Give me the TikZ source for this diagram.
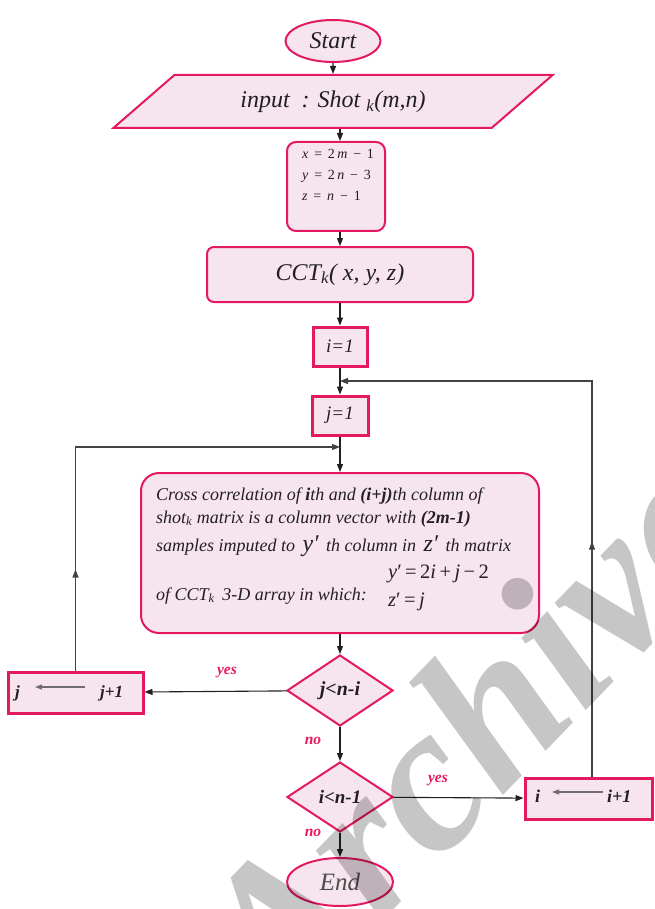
\documentclass[tikz,border=0pt]{standalone}
\usepackage{fontspec}
\setmainfont{Liberation Serif}
\usetikzlibrary{shapes.geometric,arrows.meta,decorations.markings}
\definecolor{rim}{HTML}{E4195E}
\definecolor{blush}{HTML}{F6E5EF}
\definecolor{ink}{HTML}{231F20}
\definecolor{tag}{HTML}{E4195E}
\definecolor{wm}{HTML}{C6C6C6}
\newcommand\fsz[1]{\fontsize{#1}{#1}\selectfont}

\begin{document}
\begin{tikzpicture}[x=1pt,y=-1pt,
  every node/.style={text=ink, inner sep=0pt},
  box/.style={draw=rim, fill=blush, line width=2pt},
  thickbox/.style={draw=rim, fill=blush, line width=3pt},
  tip/.style={-{Triangle[length=8pt,width=6pt]}},
  flow/.style={draw=ink, line width=1.1pt, tip},
  loopline/.style={draw=ink!85, line width=1.1pt, tip},
  midarrow/.style={postaction={decorate}, decoration={markings,
      mark=at position #1 with {\arrow{Triangle[length=8pt,width=6pt]}}}},
  assign/.style={draw=ink!65, line width=1.2pt, -{Triangle[length=7pt,width=5pt]}},
  tagtext/.style={text=tag, font=\fsz{15.5}\bfseries\itshape},
  body/.style={anchor=base west, font=\fsz{18}\itshape},
  eq/.style={anchor=base west, font=\fsz{20.5}},
  setup/.style={anchor=base west, font=\fsz{14}},
  incr/.style={anchor=base west, font=\fsz{17}\bfseries\itshape},
]
\useasboundingbox (0,0) rectangle (654,909);
\clip (0,0) rectangle (654,909);

% terminals, input and set-up boxes
\node[box, ellipse, minimum width=95pt, minimum height=42pt, font=\fsz{24}\itshape] (start) at (333,41) {Start};
\node[box, trapezium, trapezium left angle=31.4, trapezium right angle=148.6,
      trapezium stretches=true, minimum width=440pt, minimum height=53pt,
      font=\fsz{24}\itshape] (inp) at (333,101.5) {input \ : Shot \textsubscript{k}(m,n)};
\node[box, rounded corners=9pt, minimum width=98pt, minimum height=89pt] (xyz) at (336,186.5) {};
\node[setup] (xeq) at (302,159) {\textit{x}\, = \,2\,\textit{m}\, − \,1};
\node[setup] (yeq) at (302,180) {\textit{y}\, = \,2\,\textit{n}\, − \,3};
\node[setup] (zeq) at (302,201) {\textit{z}\, = \,\textit{n}\, − \,1};
\node[box, rounded corners=7pt, minimum width=266pt, minimum height=55pt, font=\fsz{24}\itshape] (cct) at (340,274.5) {CCT\textsubscript{k}( x, y, z)};
\node[thickbox, minimum width=54pt, minimum height=39pt, font=\fsz{19}\itshape] (i1) at (340,346.5) {i=1};
\node[thickbox, minimum width=56pt, minimum height=39pt, font=\fsz{19}\itshape] (j1) at (340,415.5) {j=1};

% loop body
\node[box, rounded corners=18pt, minimum width=398pt, minimum height=160pt] (big) at (340,553) {};
\node[body] (l1) at (156,500) {Cross correlation of \textbf{i}th and \textbf{(i+j)}th column of};
\node[body] (l2) at (156,523) {shot\textsubscript{k} matrix is a column vector with \textbf{(2m-1)}};
\node[body] (l3) at (156,551) {samples imputed to \,{\fsz{24}y′}\, th column in \,{\fsz{24}z′}\, th matrix};
\node[eq] (l4) at (388,578) {\textit{y}′\,=\,2\textit{i}\,+\,\textit{j}\,−\,2};
\node[body] (l5) at (156,600) {of CCT\textsubscript{k} \,3-D array in which:};
\node[eq] (l6) at (388,606) {\textit{z}′\,=\,\textit{j}};

% decisions and end
\node[box, diamond, minimum width=106pt, minimum height=71pt, font=\fsz{20}\bfseries\itshape] (d1) at (340,690.5) {j<n-i};
\node[box, diamond, minimum width=106pt, minimum height=70pt, font=\fsz{19}\bfseries\itshape] (d2) at (340,797) {i<n-1};
\node[box, ellipse, minimum width=106pt, minimum height=48pt, font=\fsz{25}\itshape, text=ink!80] (end) at (340,882) {End};

% counter updates
\node[thickbox, minimum width=135pt, minimum height=41pt] (jinc) at (75.5,692.5) {};
\node[incr] (jold) at (15,697) {j};
\node[incr] (jnew) at (100,697) {j+1};
\coordinate (ja) at (85,687);
\coordinate (jb) at (35,687);
\draw[assign] (ja) -- (jb);

\node[thickbox, minimum width=127pt, minimum height=41pt] (iinc) at (588.5,798.5) {};
\node[incr, font=\fsz{18}\bfseries\itshape] (iold) at (535,802) {i};
\node[incr, font=\fsz{18}\bfseries\itshape] (inew) at (607,802) {i+1};
\coordinate (ia) at (603,792);
\coordinate (ib) at (552,792);
\draw[assign] (ia) -- (ib);

% main flow
\draw[flow] (start) -- (inp);
\draw[flow] (inp.south -| cct.north) -- (xyz.north -| cct.north);
\draw[flow] (xyz.south -| cct.north) -- (cct.north);
\draw[flow] (cct) -- (i1);
\draw[flow] (i1) -- (j1);
\draw[flow] (j1) -- (big);
\draw[flow] (big) -- (d1);
\draw[flow] (d1) -- (jinc);
\draw[flow] (d1) -- (d2);
\draw[flow] (d2) -- (iinc);
\draw[flow] (d2) -- (end);

\node[tagtext] (yes1) at (227,673) {yes};
\node[tagtext] (no1) at (313,741) {no};
\node[tagtext] (yes2) at (438,781) {yes};
\node[tagtext] (no2) at (313,833) {no};

% loop-back connectors
\coordinate (jturn) at (75.5,447);
\draw[loopline, midarrow=101pt] (jinc.north) -- (jturn) -- (jturn -| j1.south);
\coordinate (iturn) at (592,381);
\draw[loopline, midarrow=235pt] (iturn |- iinc.north) -- (iturn) -- (iturn -| i1.south);

% archive stamp
\begin{scope}[blend mode=multiply]
\node[rotate=46, anchor=base west, font=\fsz{210}\bfseries\itshape, text=wm] (stamp) at (282,1025) {Archive};
\end{scope}
\end{tikzpicture}
\end{document}
